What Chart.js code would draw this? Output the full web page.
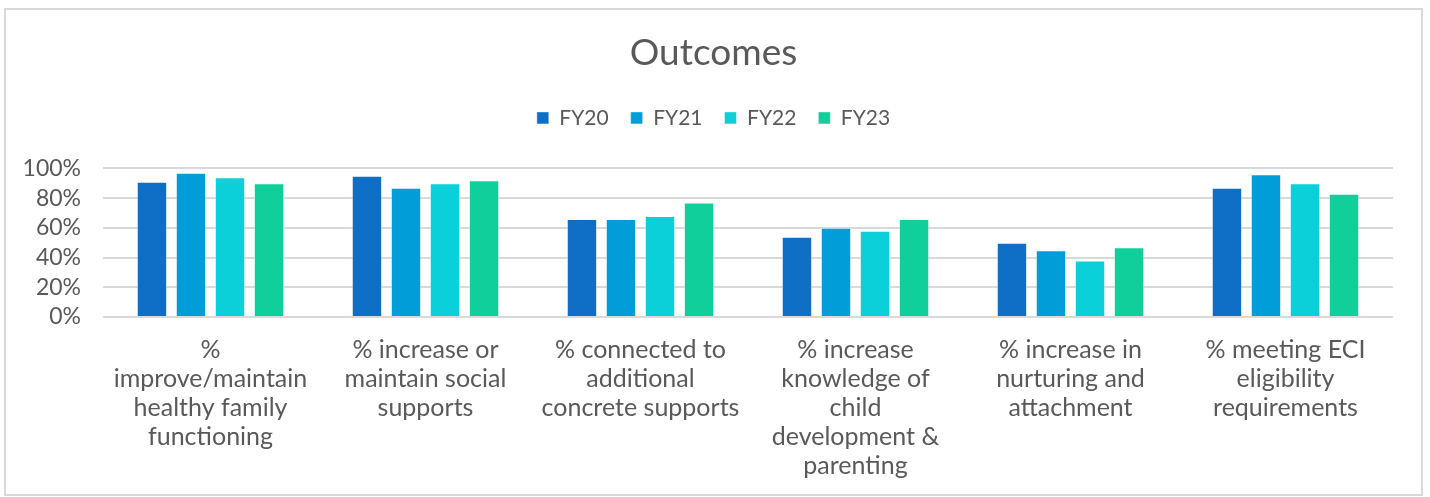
<!DOCTYPE html>
<html>
<head>
<meta charset="utf-8">
<script src="https://cdn.jsdelivr.net/npm/chart.js@4"></script>
<style>
  html, body { margin: 0; padding: 0; background: #ffffff; }
  #box { position: absolute; left: 4px; top: 8px; width: 1415px; height: 484px; border: 2px solid #d9d9d9; background: #fff; }
  canvas { display: block; }
</style>
</head>
<body>
<div id="box"><canvas id="c" width="1415" height="484"></canvas></div>
<script>
const categories = [
  ["%", "improve/maintain", "healthy family", "functioning"],
  ["% increase or", "maintain social", "supports"],
  ["% connected to", "additional", "concrete supports"],
  ["% increase", "knowledge of", "child", "development &", "parenting"],
  ["% increase in", "nurturing and", "attachment"],
  ["% meeting ECI", "eligibility", "requirements"]
];
const seriesNames = ["FY20", "FY21", "FY22", "FY23"];
const fy20 = [91, 95, 66, 54, 50, 87];
const fy21 = [97, 87, 66, 60, 45, 96];
const fy22 = [94, 90, 68, 58, 38, 90];
const fy23 = [90, 92, 77, 66, 47, 83];
const yTicks = [0, 20, 40, 60, 80, 100];
const colors = ["#0F6FC6", "#009DD9", "#0BD0D9", "#10CF9B"];

const FONT = "Lato, 'Open Sans', sans-serif";
const TXT = "#595959";
const LEGEND_GAP = 30;

// empty layout box that sits between the legend and the plot area
const legendGap = {
  id: "legendGap",
  beforeInit(chart) {
    Chart.layouts.addBox(chart, {
      position: "top",
      weight: 500,
      fullSize: true,
      options: {},
      left: 0, top: 0, right: 0, bottom: 0, width: 0, height: 0,
      isHorizontal() { return true; },
      update(maxWidth) { this.width = maxWidth; this.height = LEGEND_GAP; },
      draw() {}
    });
  }
};

const data = {
  labels: categories,
  datasets: [fy20, fy21, fy22, fy23].map((vals, i) => ({
    label: seriesNames[i],
    data: vals,
    backgroundColor: colors[i],
    borderColor: "rgba(255,255,255,0.45)",
    borderWidth: 1,
    categoryPercentage: 0.726,
    barPercentage: 0.78
  }))
};

new Chart(document.getElementById("c"), {
  type: "bar",
  data,
  plugins: [legendGap],
  options: {
    responsive: false,
    animation: false,
    layout: { padding: 0 },
    plugins: {
      title: {
        display: true,
        text: "Outcomes",
        color: TXT,
        font: { family: FONT, size: 37, weight: "normal" },
        padding: { top: 21, bottom: 10 }
      },
      legend: {
        position: "top",
        labels: {
          color: TXT,
          font: { family: FONT, size: 21 },
          boxWidth: 12,
          boxHeight: 12,
          padding: 22
        }
      },
      tooltip: { enabled: false }
    },
    scales: {
      y: {
        min: 0,
        max: 100,
        afterFit: (s) => { s.width = 97; },
        afterBuildTicks: (s) => { s.ticks = yTicks.map(v => ({ value: v })); },
        border: { display: false },
        grid: { color: "#d9d9d9", lineWidth: 2, drawTicks: false },
        ticks: {
          color: TXT,
          font: { family: FONT, size: 23 },
          padding: 22,
          autoSkip: false,
          callback: (v) => v + "%"
        }
      },
      yRight: {
        position: "right",
        min: 0,
        max: 100,
        afterFit: (s) => { s.width = 28; },
        border: { display: false },
        grid: { drawOnChartArea: false, drawTicks: false },
        ticks: { display: false }
      },
      x: {
        afterFit: (s) => { s.height = 177; },
        border: { display: false },
        grid: { display: false, drawTicks: false },
        ticks: {
          color: TXT,
          font: { family: FONT, size: 25, lineHeight: 1.16 },
          padding: 18,
          maxRotation: 0,
          autoSkip: false
        }
      }
    }
  }
});
</script>
</body>
</html>
